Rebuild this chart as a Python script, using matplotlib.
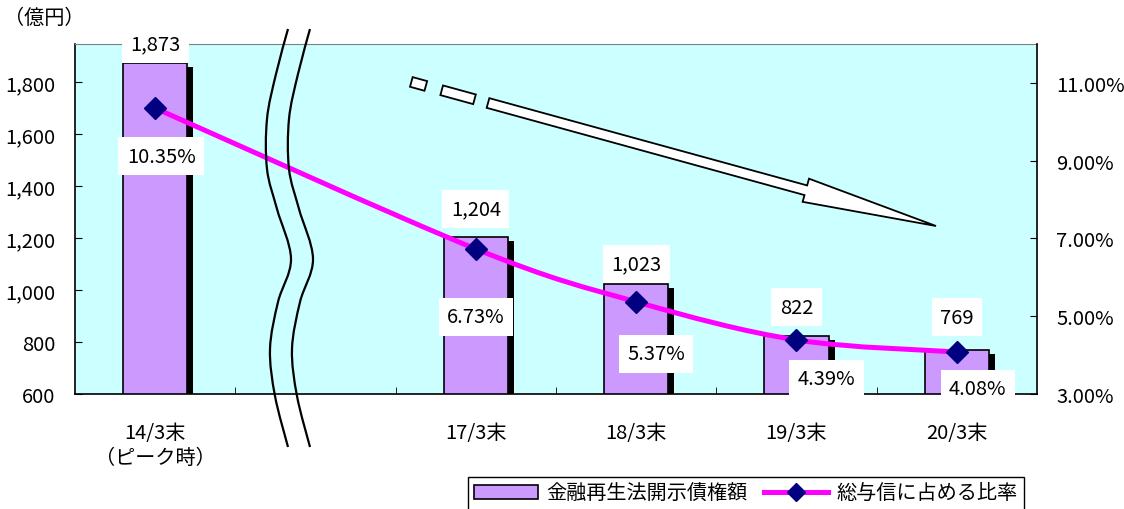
import numpy as np
import matplotlib.pyplot as plt
from matplotlib.path import Path
from matplotlib.patches import PathPatch, Polygon, Patch
from matplotlib.lines import Line2D
import matplotlib.patheffects as pe

plt.rcParams['font.family'] = ['Noto Sans CJK JP', 'DejaVu Sans']

# data (empty slot = axis break between 14/3 and 17/3)
categories = ['14/3末\n（ピーク時）', '', '17/3末', '18/3末', '19/3末', '20/3末']
amounts = [1873, None, 1204, 1023, 822, 769]          # 億円
ratios = [10.35, None, 6.73, 5.37, 4.39, 4.08]        # %
amount_labels = ['1,873', '', '1,204', '1,023', '822', '769']
ratio_labels = ['10.35%', '', '6.73%', '5.37%', '4.39%', '4.08%']
legend_labels = ['金融再生法開示債権額', '総与信に占める比率']

# hand placed label offsets in pixels (dx, dy)
amount_offsets = [(0, 19), None, (0, 28), (0, 20), (0, 29), (0, 33)]
ratio_offsets = [(6, -48), None, (0, -68), (20, -52), (30, -39), (21, -37)]

W, H = 1124, 510
FS = 14.5


def smooth_path(xs, ys):
    # bezier curve through the points (catmull-rom style control points)
    pts = np.column_stack([xs, ys]).astype(float)
    n = len(pts)
    verts = [pts[0]]
    codes = [Path.MOVETO]
    for i in range(n - 1):
        p0 = pts[max(i - 1, 0)]
        p1 = pts[i]
        p2 = pts[i + 1]
        p3 = pts[min(i + 2, n - 1)]
        verts += [p1 + (p2 - p0) / 6, p2 - (p3 - p1) / 6, p2]
        codes += [Path.CURVE4] * 3
    return Path(verts, codes)


def to_fig(xs, ys):
    return np.asarray(xs) / W, 1 - np.asarray(ys) / H


fig = plt.figure(figsize=(W / 100, H / 100), dpi=100)
ax = fig.add_axes([75 / W, 1 - 395 / H, (1037 - 75) / W, 350 / H])
ax.set_facecolor('#CCFFFF')

x = np.arange(len(categories))
valid = [i for i, v in enumerate(amounts) if v is not None]
xv = x[valid]
amt = np.array([amounts[i] for i in valid], dtype=float)
rat = np.array([ratios[i] for i in valid], dtype=float)

bars = ax.bar(xv, amt, width=0.4, color='#CC99FF', edgecolor='black', linewidth=1.2, zorder=2)
for b in bars:
    b.set_path_effects([pe.SimplePatchShadow(offset=(4.5, -3), shadow_rgbFace='black', alpha=1.0),
                        pe.Normal()])

ax.set_xlim(-0.5, len(categories) - 0.5)
ax.set_ylim(600, 1946)
yt = list(range(600, 1801, 200))
ax.set_yticks(yt)
ax.set_yticklabels([f'{v:,}' for v in yt])
ax.tick_params(axis='y', direction='in', length=5, pad=14, labelsize=FS)
ax.set_xticks(x)
ax.set_xticklabels(categories, fontsize=FS, linespacing=1.25)
ax.tick_params(axis='x', which='major', length=0, pad=20)
ax.set_xticks(np.arange(0.5, len(categories) - 1, 1), minor=True)
ax.tick_params(axis='x', which='minor', direction='in', length=5)
ax.spines['top'].set_color('#808080')
ax.spines['right'].set_visible(False)
for s in ['left', 'bottom']:
    ax.spines[s].set_linewidth(1.2)

ax2 = ax.twinx()
ax2.set_ylim(3, 12)
rt = [3, 5, 7, 9, 11]
ax2.set_yticks(rt)
ax2.set_yticklabels([f'{v:.2f}%' for v in rt])
ax2.tick_params(axis='y', direction='in', length=5, pad=14, labelsize=FS)
for s in ['left', 'top', 'bottom']:
    ax2.spines[s].set_visible(False)
ax2.spines['right'].set_linewidth(1.2)

ax2.add_patch(PathPatch(smooth_path(xv, rat), facecolor='none', edgecolor='#FF00FF',
                        linewidth=3.6, zorder=3))
ax2.plot(xv, rat, ls='none', marker='D', ms=11, color='#000080', zorder=4)

box = dict(boxstyle='square,pad=0.42', fc='white', ec='none')
for i in valid:
    dx, dy = amount_offsets[i]
    ax2.annotate(amount_labels[i], xy=(x[i], amounts[i]), xycoords=ax.transData,
                 xytext=(dx * 0.72, dy * 0.72), textcoords='offset points',
                 ha='center', va='center', fontsize=FS, bbox=box, zorder=6)
    dx, dy = ratio_offsets[i]
    ax2.annotate(ratio_labels[i], xy=(x[i], ratios[i]),
                 xytext=(dx * 0.72, dy * 0.72), textcoords='offset points',
                 ha='center', va='center', fontsize=FS, bbox=box, zorder=6)

fig.text(4 / W, 1 - 18 / H, '（億円）', fontsize=FS, va='center', ha='left')

# big hollow arrow showing the downward trend
start = np.array([488.0, 104.0])
tip = np.array([936.0, 227.0])
u = (tip - start) / np.linalg.norm(tip - start)
nrm = np.array([-u[1], u[0]])
hw, hh, hl = 5.0, 12.0, 135.0
base = tip - u * hl
arrow = [start + nrm * hw, base + nrm * hw, base + nrm * hh, tip,
         base - nrm * hh, base - nrm * hw, start - nrm * hw]
ax_, ay_ = to_fig([p[0] for p in arrow], [p[1] for p in arrow])
fig.add_artist(Polygon(np.column_stack([ax_, ay_]), closed=True, fc='white', ec='black',
                       lw=1.3, transform=fig.transFigure, zorder=5))
for c, ln in [(start - u * 31, 34), (start - u * 72, 15)]:
    a = c - u * ln / 2
    b = c + u * ln / 2
    rect = [a + nrm * hw, b + nrm * hw, b - nrm * hw, a - nrm * hw]
    rx, ry = to_fig([p[0] for p in rect], [p[1] for p in rect])
    fig.add_artist(Polygon(np.column_stack([rx, ry]), closed=True, fc='white', ec='black',
                           lw=1.3, transform=fig.transFigure, zorder=5))

# axis break wavy lines
brk_x = np.array([288, 276, 267, 267, 277, 291, 278, 270, 275, 288], dtype=float)
brk_y = np.array([30, 75, 120, 170, 210, 260, 303, 350, 397, 448], dtype=float)
for off in [0, 22]:
    fx, fy = to_fig(brk_x + off, brk_y)
    fig.add_artist(PathPatch(smooth_path(fx, fy), fc='none', ec='black', lw=1.6,
                             transform=fig.transFigure, zorder=10))

handles = [Patch(fc='#CC99FF', ec='black', lw=1.2),
           Line2D([], [], color='#FF00FF', lw=3.6, marker='D', ms=9,
                  mfc='#000080', mec='#000080')]
leg = fig.legend(handles, legend_labels, loc='upper left', bbox_to_anchor=to_fig(468, 478),
                 ncol=2, frameon=True, fancybox=False, edgecolor='black', framealpha=1,
                 fontsize=FS, handlelength=3.2, handletextpad=0.4, columnspacing=0.8,
                 borderpad=0.3, borderaxespad=0)
leg.get_frame().set_linewidth(1.0)

fig.savefig('out.png', dpi=100)
